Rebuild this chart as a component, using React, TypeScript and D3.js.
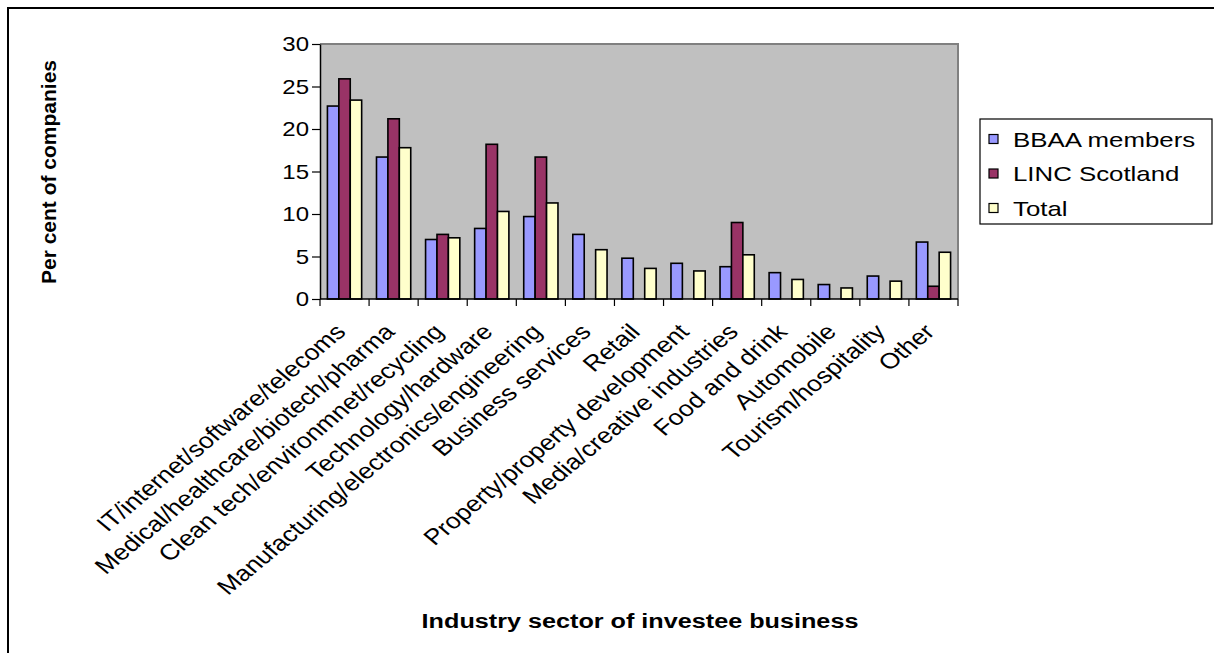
import React, { useEffect, useRef } from 'react'
import * as d3 from 'd3'

const sectors = [
  'IT/internet/software/telecoms',
  'Medical/healthcare/biotech/pharma',
  'Clean tech/environmnet/recycling',
  'Technology/hardware',
  'Manufacturing/electronics/engineering',
  'Business services',
  'Retail',
  'Property/property development',
  'Media/creative industries',
  'Food and drink',
  'Automobile',
  'Tourism/hospitality',
  'Other',
]
const seriesNames = ['BBAA members', 'LINC Scotland', 'Total']
const bbaa = [22.7, 16.7, 7.0, 8.3, 9.7, 7.6, 4.8, 4.2, 3.8, 3.1, 1.7, 2.7, 6.7]
const linc = [25.9, 21.2, 7.6, 18.2, 16.7, 0, 0, 0, 9.0, 0, 0, 0, 1.5]
const total = [23.4, 17.8, 7.2, 10.3, 11.3, 5.8, 3.6, 3.3, 5.2, 2.3, 1.3, 2.1, 5.5]
const yTicks = [0, 5, 10, 15, 20, 25, 30]
const colors = ['#9999FF', '#993366', '#FFFFCC']

const FONT = '"Liberation Sans", Arial, sans-serif'
// the source picture has its text drawn a bit wide
const SX = 1.2

const App = () => {
  const ref = useRef(null)

  useEffect(() => {
    const svg = d3.select(ref.current)
    svg.selectAll('*').remove()

    const left = 320
    const right = 958
    const top = 44
    const bottom = 299

    // outer frame (runs off the right/bottom edge)
    svg
      .append('rect')
      .attr('x', 8)
      .attr('y', 8)
      .attr('width', 1400)
      .attr('height', 1000)
      .attr('fill', 'white')
      .attr('stroke', 'black')
      .attr('stroke-width', 2)

    const x = d3.scaleBand().domain(sectors).range([left, right])
    const xInner = d3
      .scaleBand()
      .domain(seriesNames)
      .range([0, x.bandwidth()])
      .paddingInner(0)
      .paddingOuter(0.65)
    const y = d3.scaleLinear().domain([0, 30]).range([bottom, top])

    // plot area
    svg
      .append('rect')
      .attr('x', left)
      .attr('y', top)
      .attr('width', right - left)
      .attr('height', bottom - top)
      .attr('fill', '#C0C0C0')
    svg
      .append('path')
      .attr('d', `M${left},${top}H${right}V${bottom}`)
      .attr('fill', 'none')
      .attr('stroke', '#808080')
      .attr('stroke-width', 2)

    const rows = sectors.map((s, i) => ({
      sector: s,
      values: [bbaa[i], linc[i], total[i]],
    }))

    const groups = svg
      .append('g')
      .selectAll('g')
      .data(rows)
      .enter()
      .append('g')
      .attr('transform', (d) => `translate(${x(d.sector)},0)`)

    groups
      .selectAll('rect')
      .data((d) => d.values.map((v, j) => ({ v, j })).filter((e) => e.v > 0))
      .enter()
      .append('rect')
      .attr('x', (d) => xInner(seriesNames[d.j]))
      .attr('width', xInner.bandwidth())
      .attr('y', (d) => y(d.v))
      .attr('height', (d) => bottom - y(d.v))
      .attr('fill', (d) => colors[d.j])
      .attr('stroke', 'black')
      .attr('stroke-width', 1.6)

    // y axis
    const yAxis = d3
      .axisLeft(y)
      .tickValues(yTicks)
      .tickSize(8)
      .tickSizeOuter(0)
      .tickFormat(() => '')
    const gy = svg
      .append('g')
      .attr('transform', `translate(${left},0)`)
      .call(yAxis)
    gy.select('.domain').attr('stroke', 'black').attr('stroke-width', 1.5)
    gy.selectAll('line').attr('stroke', 'black').attr('stroke-width', 1.2)

    svg
      .append('g')
      .selectAll('text')
      .data(yTicks)
      .enter()
      .append('text')
      .attr('transform', (d) => `translate(${left - 11},${y(d)}) scale(${SX},1)`)
      .attr('text-anchor', 'end')
      .attr('dy', '0.36em')
      .attr('font-family', FONT)
      .attr('font-size', 20)
      .text((d) => d)

    // x axis: line, ticks at category edges, rotated labels
    svg
      .append('line')
      .attr('x1', left)
      .attr('x2', right)
      .attr('y1', bottom)
      .attr('y2', bottom)
      .attr('stroke', 'black')
      .attr('stroke-width', 1.5)
    const edges = sectors.map((s) => x(s)).concat([right])
    svg
      .append('g')
      .selectAll('line')
      .data(edges)
      .enter()
      .append('line')
      .attr('x1', (d) => d)
      .attr('x2', (d) => d)
      .attr('y1', bottom)
      .attr('y2', bottom + 7)
      .attr('stroke', 'black')
      .attr('stroke-width', 1.2)

    svg
      .append('g')
      .selectAll('text')
      .data(sectors)
      .enter()
      .append('text')
      .attr(
        'transform',
        (d) =>
          `translate(${x(d) + x.bandwidth() / 2 - 11},${bottom + 23}) scale(${SX},1) rotate(-45)`
      )
      .attr('text-anchor', 'end')
      .attr('dy', '0.72em')
      .attr('font-family', FONT)
      .attr('font-size', 22)
      .text((d) => d)

    // axis titles
    svg
      .append('text')
      .attr('transform', 'translate(56,172) rotate(-90)')
      .attr('text-anchor', 'middle')
      .attr('font-family', FONT)
      .attr('font-weight', 'bold')
      .attr('font-size', 21)
      .text('Per cent of companies')

    svg
      .append('text')
      .attr('transform', `translate(640,628) scale(${SX},1)`)
      .attr('text-anchor', 'middle')
      .attr('font-family', FONT)
      .attr('font-weight', 'bold')
      .attr('font-size', 21)
      .text('Industry sector of investee business')

    // legend
    const lg = svg.append('g')
    lg.append('rect')
      .attr('x', 980)
      .attr('y', 119)
      .attr('width', 232)
      .attr('height', 105)
      .attr('fill', 'white')
      .attr('stroke', 'black')
      .attr('stroke-width', 1.2)
    const item = lg
      .selectAll('g.item')
      .data(seriesNames)
      .enter()
      .append('g')
      .attr('class', 'item')
      .attr('transform', (d, i) => `translate(989,${139 + i * 34.5})`)
    item
      .append('rect')
      .attr('x', 0)
      .attr('y', -4.5)
      .attr('width', 9)
      .attr('height', 9)
      .attr('fill', (d, i) => colors[i])
      .attr('stroke', 'black')
      .attr('stroke-width', 1.2)
    item
      .append('text')
      .attr('transform', `translate(24,0) scale(1.23,1)`)
      .attr('dy', '0.36em')
      .attr('font-family', FONT)
      .attr('font-size', 21)
      .text((d) => d)
  }, [])

  return (
    <svg
      ref={ref}
      width={1214}
      height={653}
      style={{ position: 'absolute', left: 0, top: 0, background: 'white' }}
    />
  )
}

export default App
